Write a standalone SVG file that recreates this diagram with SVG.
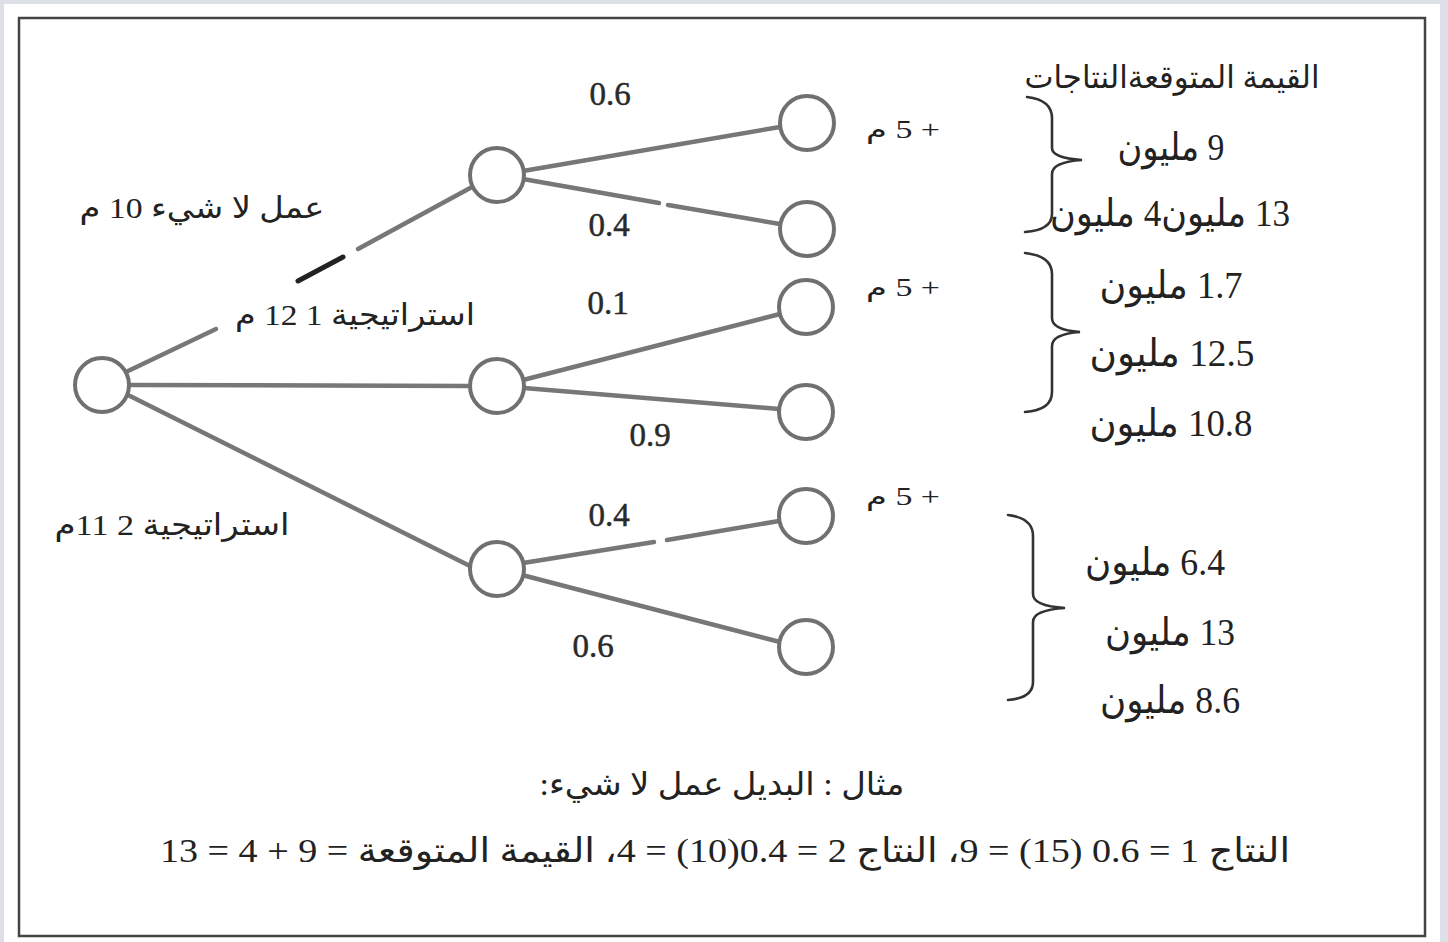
<svg xmlns="http://www.w3.org/2000/svg" width="1448" height="942" viewBox="0 0 1448 942">
<style>
.node{fill:#fff;stroke:#707070;stroke-width:4}
.edge{stroke:#777;stroke-width:4.5;stroke-linecap:round;fill:none}
.dark{stroke:#222;stroke-width:5}
.brace{fill:none;stroke:#333;stroke-width:2.6;stroke-linecap:round}
.num{font-family:"Liberation Serif","DejaVu Serif",serif;font-size:33px;fill:#2a2a2a;stroke:#2a2a2a;stroke-width:0.5;text-anchor:middle}
.ar{font-family:"Liberation Serif","DejaVu Sans",serif;fill:#222;text-anchor:middle;direction:rtl;unicode-bidi:embed}
</style>
<rect width="1448" height="942" fill="#dde0e7"/>
<rect x="4" y="4" width="1436" height="938" fill="#fff"/>
<rect x="19" y="18" width="1406" height="918" fill="none" stroke="#444" stroke-width="2.5"/>

<g id="connectors">
<line class="edge" x1="126" y1="372" x2="216" y2="329"/>
<line class="edge dark" x1="298" y1="281" x2="343" y2="257"/>
<line class="edge" x1="358" y1="249" x2="472" y2="187"/>
<line class="edge" x1="129" y1="385" x2="470" y2="386"/>
<line class="edge" x1="128" y1="395" x2="470" y2="566"/>
<line class="edge" x1="523" y1="171" x2="780" y2="127"/>
<line class="edge" x1="523" y1="179" x2="659" y2="203"/>
<line class="edge" x1="668" y1="205" x2="780" y2="224"/>
<line class="edge" x1="523" y1="380" x2="780" y2="314"/>
<line class="edge" x1="524" y1="388" x2="779" y2="409"/>
<line class="edge" x1="523" y1="563" x2="654" y2="542"/>
<line class="edge" x1="667" y1="540" x2="779" y2="521"/>
<line class="edge" x1="522" y1="575" x2="780" y2="642"/>
</g>

<g id="root"><circle class="node" cx="102" cy="385" r="27"/></g>
<g id="n-nothing"><circle class="node" cx="497" cy="175" r="27"/></g>
<g id="n-s1"><circle class="node" cx="497" cy="386" r="27"/></g>
<g id="n-s2"><circle class="node" cx="497" cy="569" r="27"/></g>
<g id="leaf1"><circle class="node" cx="807" cy="123" r="27"/></g>
<g id="leaf2"><circle class="node" cx="807" cy="229" r="27"/></g>
<g id="leaf3"><circle class="node" cx="806" cy="307" r="27"/></g>
<g id="leaf4"><circle class="node" cx="806" cy="412" r="27"/></g>
<g id="leaf5"><circle class="node" cx="806" cy="516" r="27"/></g>
<g id="leaf6"><circle class="node" cx="806" cy="647" r="27"/></g>

<g id="probabilities">
<text class="num" x="610" y="105">0.6</text>
<text class="num" x="609" y="236">0.4</text>
<text class="num" x="608" y="314">0.1</text>
<text class="num" x="650" y="446">0.9</text>
<text class="num" x="609" y="526">0.4</text>
<text class="num" x="593" y="657" fill="#555" stroke="#555">0.6</text>
</g>

<g id="branch-labels">
<text class="ar" x="202" y="218" font-size="30" textLength="245" lengthAdjust="spacingAndGlyphs">عمل لا شيء 10 م</text>
<text class="ar" x="355" y="325" font-size="30" textLength="240" lengthAdjust="spacingAndGlyphs">استراتيجية 1 12 م</text>
<text class="ar" x="172" y="535" font-size="30" textLength="235" lengthAdjust="spacingAndGlyphs">استراتيجية 2 11م</text>
<text class="ar" x="903" y="138" font-size="25" textLength="74" lengthAdjust="spacingAndGlyphs">+ 5 م</text>
<text class="ar" x="903" y="296" font-size="25" textLength="74" lengthAdjust="spacingAndGlyphs">+ 5 م</text>
<text class="ar" x="903" y="505" font-size="25" textLength="74" lengthAdjust="spacingAndGlyphs">+ 5 م</text>
</g>

<g id="outcomes">
<text class="ar" x="1172" y="88" font-size="32" textLength="295" lengthAdjust="spacingAndGlyphs">القيمة المتوقعةالنتاجات</text>
<path class="brace" d="M1027,97 Q1052,100 1052,118 L1052,148 Q1052,158 1082,160 Q1052,162 1052,174 L1052,214 Q1052,230 1025,232"/>
<text class="ar" x="1171" y="160" font-size="38" textLength="107" lengthAdjust="spacingAndGlyphs">9 مليون</text>
<text class="ar" x="1170" y="226" font-size="38" textLength="240" lengthAdjust="spacingAndGlyphs">13 مليون4 مليون</text>
<path class="brace" d="M1025,253 Q1052,256 1052,274 L1052,318 Q1052,330 1080,332 Q1052,334 1052,346 L1052,392 Q1052,410 1025,412"/>
<text class="ar" x="1171" y="298" font-size="38" textLength="143" lengthAdjust="spacingAndGlyphs">1.7 مليون</text>
<text class="ar" x="1172" y="366" font-size="38" textLength="165" lengthAdjust="spacingAndGlyphs">12.5 مليون</text>
<text class="ar" x="1171" y="436" font-size="38" fill="#555" textLength="163" lengthAdjust="spacingAndGlyphs">10.8 مليون</text>
<path class="brace" d="M1008,515 Q1033,518 1033,536 L1033,594 Q1033,606 1065,608 Q1033,610 1033,622 L1033,682 Q1033,698 1008,700"/>
<text class="ar" x="1155" y="575" font-size="38" textLength="140" lengthAdjust="spacingAndGlyphs">6.4 مليون</text>
<text class="ar" x="1170" y="645" font-size="38" textLength="130" lengthAdjust="spacingAndGlyphs">13 مليون</text>
<text class="ar" x="1170" y="713" font-size="38" textLength="140" lengthAdjust="spacingAndGlyphs">8.6 مليون</text>
</g>

<g id="example">
<text class="ar" x="722" y="795" font-size="32" textLength="365" lengthAdjust="spacingAndGlyphs">مثال : البديل عمل لا شيء:</text>
<text class="ar" x="725" y="862" font-size="34" textLength="1130" lengthAdjust="spacingAndGlyphs">النتاج 1 = 0.6 (15) = 9، النتاج 2 = 0.4(10) = 4، القيمة المتوقعة = 9 + 4 = 13</text>
</g>
</svg>
